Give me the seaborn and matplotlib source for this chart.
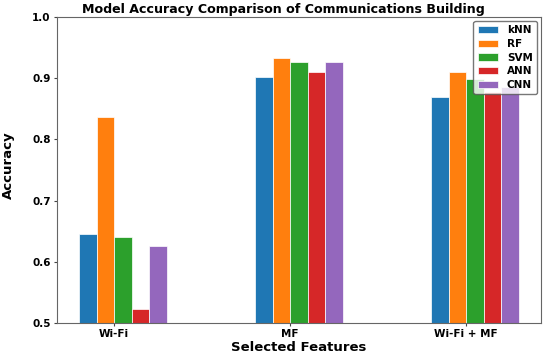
import numpy as np
import pandas as pd
import matplotlib
matplotlib.use('Agg')
import matplotlib.pyplot as plt
import seaborn as sns

features = ['Wi-Fi', 'MF', 'Wi-Fi + MF']
models = ['kNN', 'RF', 'SVM', 'ANN', 'CNN']
knn = [0.645, 0.902, 0.869]
rf = [0.837, 0.933, 0.910]
svm = [0.640, 0.926, 0.898]
ann = [0.523, 0.910, 0.878]
cnn = [0.626, 0.927, 0.886]

scores = {'kNN': knn, 'RF': rf, 'SVM': svm, 'ANN': ann, 'CNN': cnn}
df = pd.DataFrame([
    {'pos': i + 0.05, 'Model': m, 'Accuracy': v}
    for m in models for i, v in enumerate(scores[m])
])

sns.set_style('ticks')
plt.rcParams['font.family'] = ['DejaVu Sans']
plt.rcParams['font.weight'] = 'bold'
plt.rcParams['text.color'] = 'black'
plt.rcParams['axes.labelcolor'] = 'black'

fig = plt.figure(figsize=(5.5, 3.56), dpi=100)
ax = fig.add_axes([0.1036, 0.0927, 0.8800, 0.8593])
sns.barplot(data=df, x='pos', y='Accuracy', hue='Model', hue_order=models,
            palette='tab10', saturation=1, native_scale=True, width=0.5,
            edgecolor='white', linewidth=0.5, ax=ax)

ax.set_xticks(range(len(features)))
ax.set_xticklabels(features, fontsize=7.5, fontweight='bold')
ax.set_xlim(-0.325, 2.425)
ax.set_ylim(0.5, 1.0)
ax.set_yticks([0.5, 0.6, 0.7, 0.8, 0.9, 1.0])
ax.set_yticklabels(['0.5', '0.6', '0.7', '0.8', '0.9', '1.0'], fontsize=7.5, fontweight='bold')
ax.tick_params(length=2.5, width=0.8, pad=2, colors='#444444', labelcolor='black')
for s in ax.spines.values():
    s.set_color('#666666')
    s.set_linewidth(0.8)

ax.set_xlabel('Selected Features', fontsize=9.5, fontweight='bold', labelpad=1, color='black')
ax.set_ylabel('Accuracy', fontsize=9.5, fontweight='bold', color='black')
ax.yaxis.set_label_coords(-0.086, 0.515)
ax.set_title('Model Accuracy Comparison of Communications Building',
             fontsize=9.1, fontweight='bold', pad=3, x=0.467, color='black')
leg = ax.legend(loc='upper right', frameon=True, framealpha=0.8,
                labelspacing=0.35, borderaxespad=0.4,
                prop={'weight': 'bold', 'size': 7.5})
leg.get_frame().set_edgecolor('#555555')
for t in leg.get_texts():
    t.set_color('black')

fig.savefig('out.png', dpi=100)
